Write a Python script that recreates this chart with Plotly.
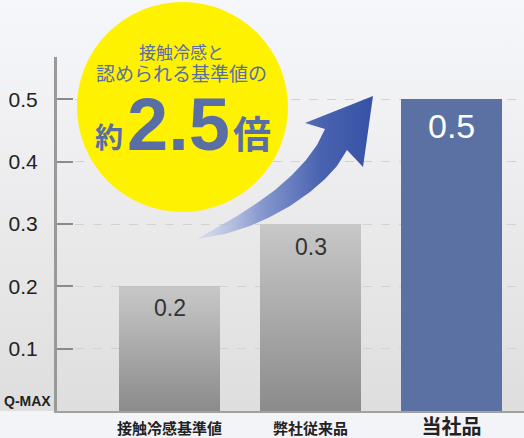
import plotly.graph_objects as go

# ---- data ----
categories = ["接触冷感基準値", "弊社従来品", "当社品"]
values = [0.2, 0.3, 0.5]
value_labels = ["0.2", "0.3", "0.5"]
ytick_vals = [0.1, 0.2, 0.3, 0.4, 0.5]
ytick_text = ["0.1", "0.2", "0.3", "0.4", "0.5"]

W, H = 524, 438
BASE_PX = 411          # baseline (pixels from top)
TOP_PX = 57            # top of y axis line
LEFT_PX = 57           # y axis line x
BAR_W = 0.716

fig = go.Figure()

# ---- background gradient (decoration subplot x/y, pixel coordinates) ----
fig.add_trace(go.Scatter(
    x=[0, W, W, 0, 0], y=[0, 0, BASE_PX, BASE_PX, 0],
    mode="lines", line=dict(width=0), fill="toself",
    fillgradient=dict(type="vertical",
                      colorscale=[[0, "#dedede"], [0.65, "#efeff1"], [1, "#f6f7fb"]]),
    hoverinfo="skip", showlegend=False, xaxis="x", yaxis="y"))

# ---- bars (data subplot x2/y2) ----
bar_colors = ["#a8a8a8", "#a8a8a8", "#5b71a4"]
fig.add_trace(go.Bar(
    x=list(range(len(categories))), y=values, width=BAR_W,
    marker=dict(color=bar_colors, line=dict(width=0)),
    hoverinfo="skip", showlegend=False, xaxis="x2", yaxis="y2"))

# gradient overlay for the two gray bars, built from the same arrays
for i in range(2):
    v = values[i]
    fig.add_trace(go.Scatter(
        x=[i - BAR_W / 2, i + BAR_W / 2, i + BAR_W / 2, i - BAR_W / 2, i - BAR_W / 2],
        y=[0, 0, v, v, 0],
        mode="lines", line=dict(width=0), fill="toself",
        fillgradient=dict(type="vertical",
                          colorscale=[[0, "#8b8b8b"], [1, "#c8c8c8"]]),
        hoverinfo="skip", showlegend=False, xaxis="x2", yaxis="y2"))

# value labels on bars
label_fonts = [dict(size=23, color="#333333"), dict(size=23, color="#333333"),
               dict(size=34, color="#ffffff")]
label_shift = [-22, -23, -27]
for i, (v, t) in enumerate(zip(values, value_labels)):
    fig.add_annotation(x=i, y=v, xref="x2", yref="y2", text=t, showarrow=False,
                       yanchor="middle", yshift=label_shift[i],
                       font=dict(family="Liberation Sans, Arial", **label_fonts[i]))

# ---- arrow (decoration subplot x3/y3, pixel coordinates) ----
arrow_x = [197, 215, 237, 257, 275, 292, 306, 317, 325, 305, 373, 363, 347,
           337, 325, 310, 290, 270, 250, 225, 197]
arrow_y = [239, 229, 216, 203, 190, 175, 160, 145, 129, 123, 96, 167, 150,
           166, 179, 192, 206, 217, 226, 234, 239]
fig.add_trace(go.Scatter(
    x=arrow_x, y=arrow_y, mode="lines", line=dict(width=0), fill="toself",
    fillgradient=dict(type="horizontal",
                      colorscale=[[0, "rgba(200,208,234,0.5)"], [0.35, "#8a9bd0"],
                                  [0.7, "#4a63b0"], [1, "#3652a6"]]),
    hoverinfo="skip", showlegend=False, xaxis="x3", yaxis="y3"))

# ---- yellow circle ----
fig.add_shape(type="circle", xref="x3", yref="y3", x0=77, x1=288, y0=2, y1=212,
              fillcolor="#fff200", line=dict(width=0), layer="above")

TXT = "#5a6ea6"
CJK = "Noto Sans CJK JP"
fig.add_annotation(x=181, y=62, xref="x3", yref="y3",
                   text="接触冷感と<br><span style='font-size:19px'>認められる基準値の</span>",
                   showarrow=False, align="center",
                   font=dict(family=CJK, size=17, color=TXT))
fig.add_annotation(x=178, y=124, xref="x3", yref="y3", text="<b>2.5</b>", showarrow=False,
                   font=dict(family="Liberation Sans, Arial", size=74, color=TXT))
fig.add_annotation(x=109, y=136, xref="x3", yref="y3", text="<b>約</b>", showarrow=False,
                   font=dict(family=CJK, size=28, color=TXT))
fig.add_annotation(x=252, y=131, xref="x3", yref="y3", text="<b>倍</b>", showarrow=False,
                   font=dict(family=CJK, size=38, color=TXT))

# Q-MAX label
fig.add_annotation(x=27, y=401, xref="x3", yref="y3", text="<b>Q-MAX</b>", showarrow=False,
                   font=dict(family="Liberation Sans Narrow, Liberation Sans, Arial", size=14,
                             color="#222222"))

tick_text_x = ["<b>%s</b>" % categories[0], "<b>%s</b>" % categories[1],
               "<b><span style='font-size:20px'>%s</span></b>" % categories[2]]

full = dict(domain=[0, 1], visible=False, fixedrange=True)
fig.update_layout(
    width=W, height=H,
    margin=dict(l=0, r=0, t=0, b=0, autoexpand=False),
    paper_bgcolor="#f3f4f8",
    plot_bgcolor="rgba(0,0,0,0)",
    showlegend=False,
    xaxis=dict(range=[0, W], **full),
    yaxis=dict(range=[H, 0], **full),
    xaxis2=dict(domain=[LEFT_PX / W, 1], anchor="y2",
                range=[-0.798, 2.514], automargin=False,
                tickmode="array", tickvals=list(range(len(categories))), ticktext=tick_text_x,
                tickfont=dict(family=CJK, size=15, color="#222222"),
                ticklabelstandoff=3,
                showline=True, linecolor="#a0a0a0", linewidth=2,
                showgrid=False, zeroline=False, ticks="", fixedrange=True),
    yaxis2=dict(domain=[(H - BASE_PX) / H, (H - TOP_PX) / H], anchor="x2",
                range=[0, 0.568], automargin=False,
                tickmode="array", tickvals=ytick_vals, ticktext=ytick_text,
                tickfont=dict(family="Liberation Sans, Arial", size=21, color="#222222"),
                ticks="inside", ticklen=16, tickwidth=2, tickcolor="#8a8a8a",
                ticklabelstandoff=12,
                showline=True, linecolor="#999999", linewidth=3,
                showgrid=True, gridcolor="#d2d2d2", griddash="dash", gridwidth=1,
                zeroline=False, fixedrange=True),
    xaxis3=dict(range=[0, W], anchor="y3", **full),
    yaxis3=dict(range=[H, 0], anchor="x3", **full),
    bargap=0,
)

fig.write_html("out.html", config={"displayModeBar": False},
               post_script="document.body.style.margin='0';document.body.style.overflow='hidden';")
